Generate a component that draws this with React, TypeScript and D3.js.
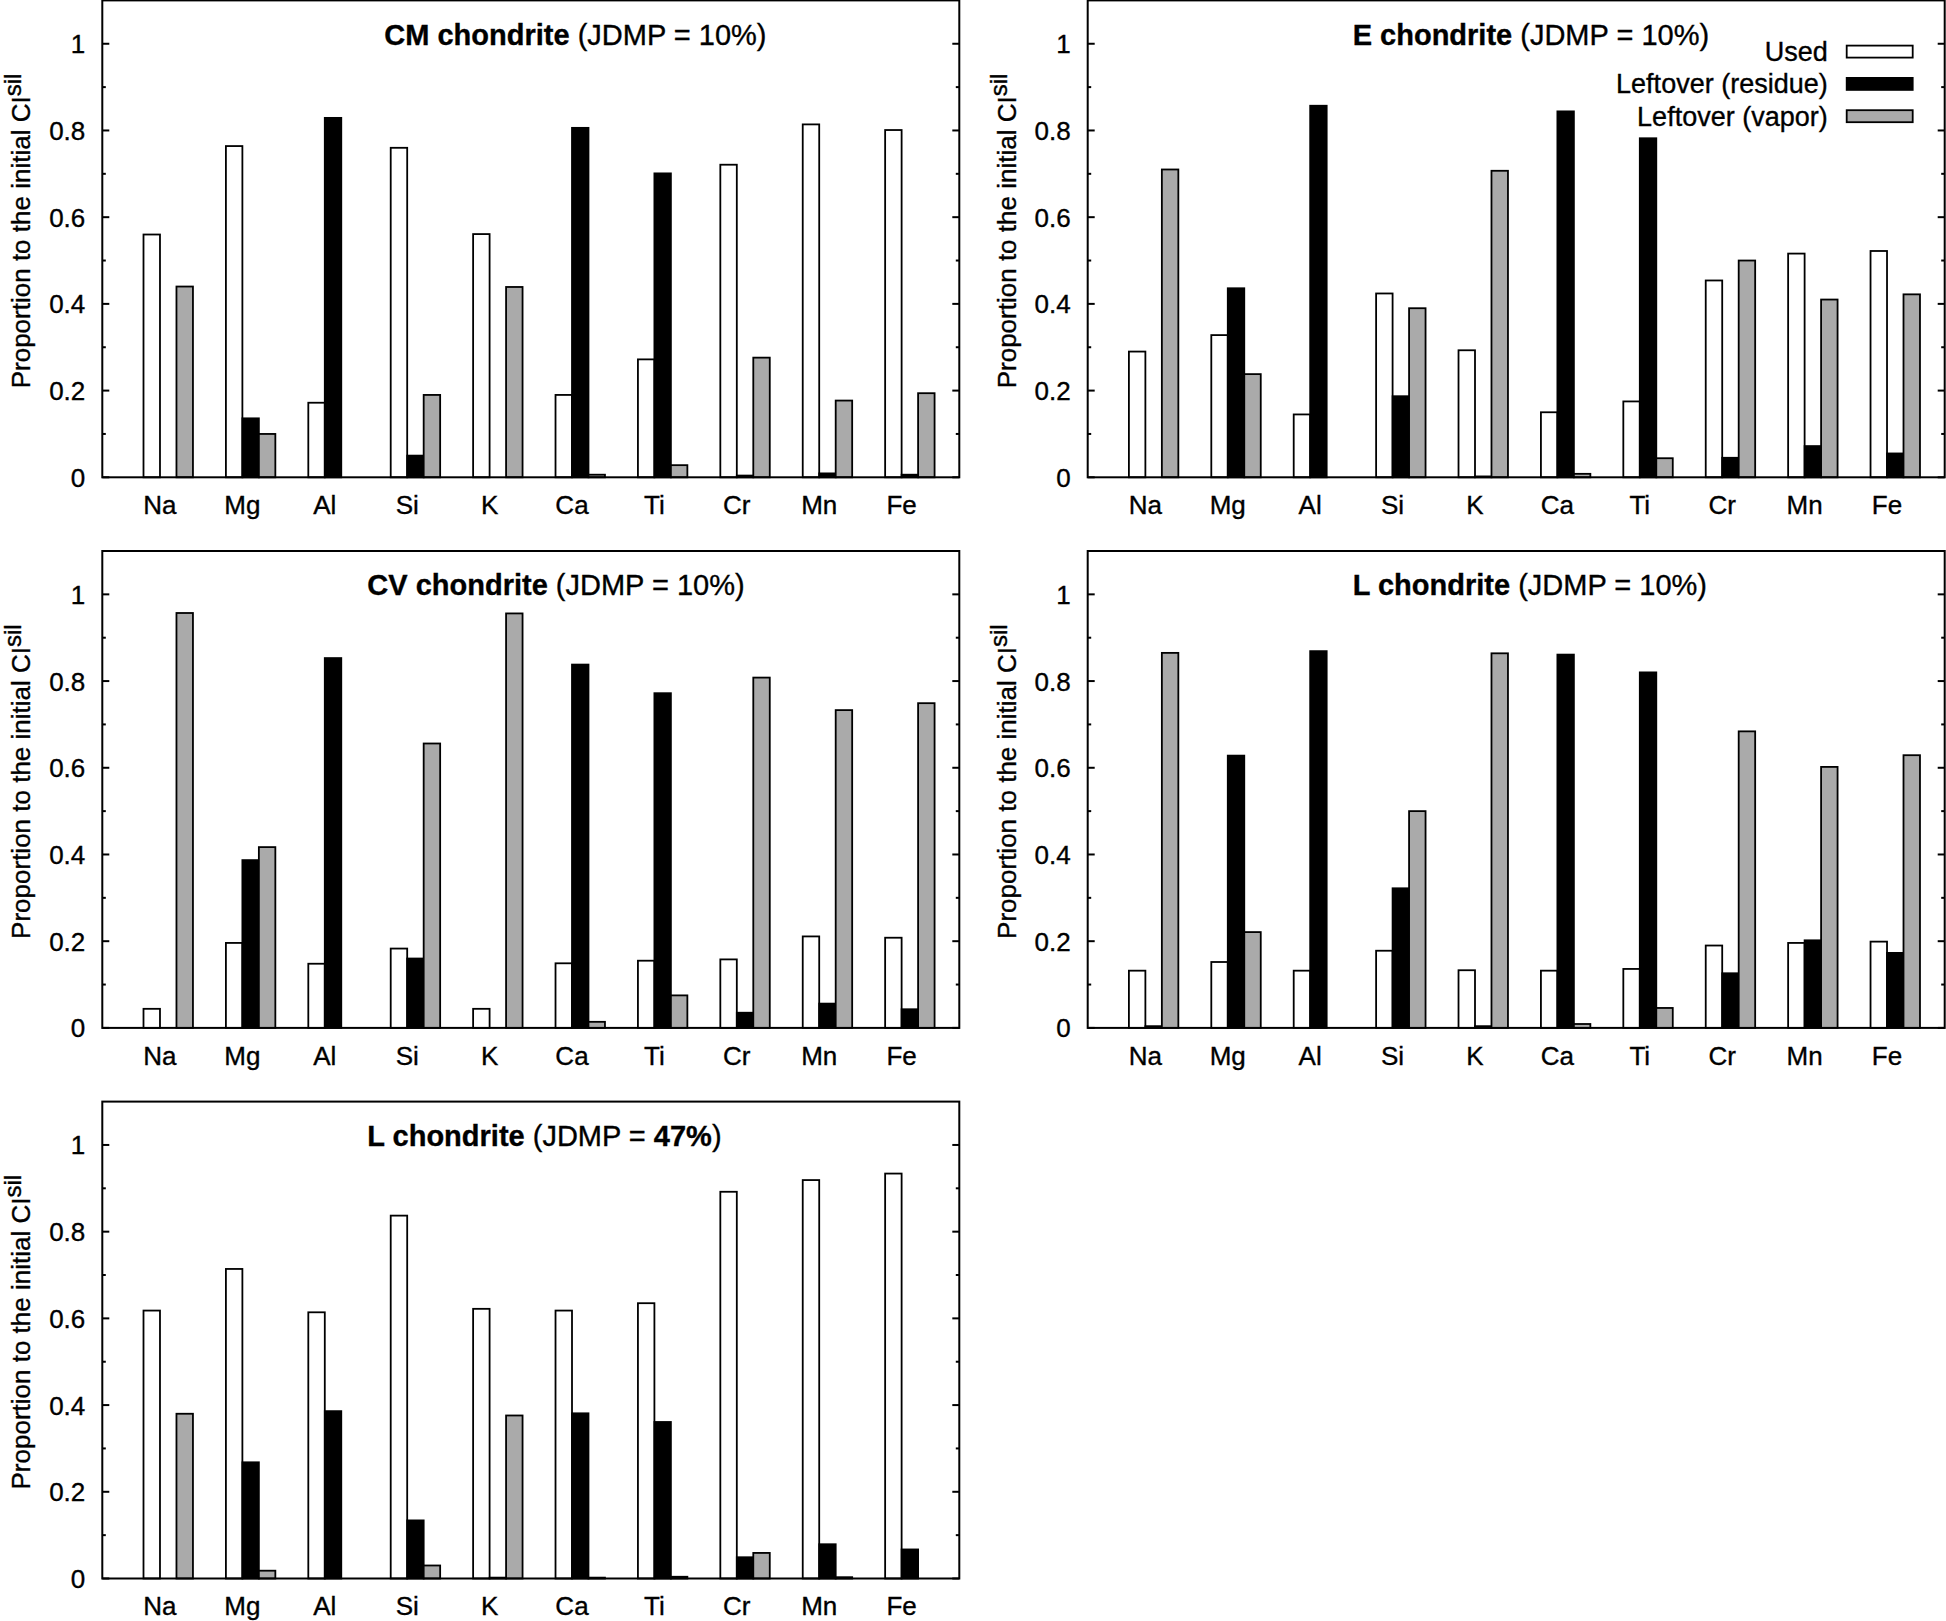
import * as d3 from "d3";

// element order on the x axis
const elements = ["Na", "Mg", "Al", "Si", "K", "Ca", "Ti", "Cr", "Mn", "Fe"];
const seriesNames = ["Used", "Leftover (residue)", "Leftover (vapor)"];
const seriesFill = ["#ffffff", "#000000", "#aaaaaa"];

// CM chondrite (JDMP = 10%)
const cmUsed = [0.56, 0.764, 0.172, 0.76, 0.561, 0.19, 0.272, 0.721, 0.814, 0.801];
const cmResidue = [0, 0.136, 0.829, 0.05, 0, 0.806, 0.701, 0.004, 0.009, 0.006];
const cmVapor = [0.44, 0.1, 0, 0.19, 0.439, 0.006, 0.028, 0.276, 0.177, 0.194];

// E chondrite (JDMP = 10%)
const eUsed = [0.29, 0.328, 0.145, 0.424, 0.293, 0.15, 0.175, 0.454, 0.516, 0.522];
const eResidue = [0, 0.436, 0.857, 0.187, 0.002, 0.844, 0.782, 0.045, 0.072, 0.055];
const eVapor = [0.71, 0.238, 0, 0.39, 0.707, 0.008, 0.044, 0.5, 0.41, 0.422];

// CV chondrite (JDMP = 10%)
const cvUsed = [0.044, 0.196, 0.148, 0.183, 0.044, 0.149, 0.155, 0.158, 0.211, 0.208];
const cvResidue = [0, 0.387, 0.853, 0.16, 0, 0.838, 0.772, 0.035, 0.056, 0.043];
const cvVapor = [0.957, 0.417, 0, 0.656, 0.956, 0.014, 0.075, 0.808, 0.733, 0.749];

// L chondrite (JDMP = 10%)
const lUsed = [0.132, 0.152, 0.132, 0.178, 0.133, 0.132, 0.136, 0.19, 0.196, 0.199];
const lResidue = [0.004, 0.628, 0.869, 0.322, 0.004, 0.861, 0.82, 0.126, 0.202, 0.173];
const lVapor = [0.865, 0.221, 0, 0.5, 0.864, 0.009, 0.046, 0.684, 0.602, 0.629];

// L chondrite (JDMP = 47%)
const l47Used = [0.618, 0.714, 0.614, 0.837, 0.622, 0.618, 0.635, 0.892, 0.919, 0.934];
const l47Residue = [0, 0.268, 0.386, 0.134, 0.002, 0.381, 0.361, 0.049, 0.079, 0.067];
const l47Vapor = [0.38, 0.018, 0, 0.03, 0.376, 0.002, 0.004, 0.059, 0.003, 0];

const yMajor = [0, 0.2, 0.4, 0.6, 0.8, 1];
const yMinor = [0.1, 0.3, 0.5, 0.7, 0.9];
const yTickLabels = ["0", "0.2", "0.4", "0.6", "0.8", "1"];

const panels = [
  { title: [["CM chondrite", true], [" (JDMP = 10%)", false]], series: [cmUsed, cmResidue, cmVapor], col: 0, row: 0, titleX: 282, legend: false },
  { title: [["E chondrite", true], [" (JDMP = 10%)", false]], series: [eUsed, eResidue, eVapor], col: 1, row: 0, titleX: 265, legend: true },
  { title: [["CV chondrite", true], [" (JDMP = 10%)", false]], series: [cvUsed, cvResidue, cvVapor], col: 0, row: 1, titleX: 265, legend: false },
  { title: [["L chondrite", true], [" (JDMP = 10%)", false]], series: [lUsed, lResidue, lVapor], col: 1, row: 1, titleX: 265, legend: false },
  { title: [["L chondrite", true], [" (JDMP = ", false], ["47%", true], [")", false]], series: [l47Used, l47Residue, l47Vapor], col: 0, row: 2, titleX: 265, legend: false },
];

const W = 1946;
const H = 1621;
const plotW = 857;
const plotH = 476.9;
const colLeft = [102.3, 1087.7];
const rowTop = [0.4, 551, 1101.6];
const font = "'Liberation Sans', Arial, Helvetica, sans-serif";
// a thin outline makes the glyphs a little heavier, like the scan
const txt = { fontFamily: font, stroke: "#000", strokeWidth: 0.35 };

function Panel({ p }) {
  const x = d3.scaleLinear().domain([-0.8, 9.6]).range([0, plotW]);
  const y = d3.scaleLinear().domain([0, 1.1]).range([plotH, 0]);
  const bw = x(0.2) - x(0);
  const left = colLeft[p.col];
  const top = rowTop[p.row];

  return (
    <g transform={`translate(${left},${top})`}>
      {p.series.map((vals, s) =>
        vals.map((v, i) =>
          v > 0 ? (
            <rect
              key={`${s}-${i}`}
              x={x(i) + (s - 1.5) * bw}
              y={y(v)}
              width={bw}
              height={y(0) - y(v)}
              fill={seriesFill[s]}
              stroke="#000"
              strokeWidth={1.8}
            />
          ) : null
        )
      )}
      <rect x={0} y={0} width={plotW} height={plotH} fill="none" stroke="#000" strokeWidth={2} />
      {yMajor.map((t) => (
        <g key={`M${t}`}>
          <line x1={0} x2={7} y1={y(t)} y2={y(t)} stroke="#000" strokeWidth={2} />
          <line x1={plotW - 7} x2={plotW} y1={y(t)} y2={y(t)} stroke="#000" strokeWidth={2} />
        </g>
      ))}
      {yMinor.map((t) => (
        <g key={`m${t}`}>
          <line x1={0} x2={3.5} y1={y(t)} y2={y(t)} stroke="#000" strokeWidth={2} />
          <line x1={plotW - 3.5} x2={plotW} y1={y(t)} y2={y(t)} stroke="#000" strokeWidth={2} />
        </g>
      ))}
      {yMajor.map((t, i) => (
        <text key={`l${t}`} x={-17} y={y(t) + 9.5} textAnchor="end" fontSize={26} {...txt}>
          {yTickLabels[i]}
        </text>
      ))}
      {elements.map((e, i) => (
        <text key={e} x={x(i - 0.1)} y={plotH + 37} textAnchor="middle" fontSize={26} {...txt}>
          {e}
        </text>
      ))}
      <text x={p.titleX} y={y(1) + 1} fontSize={29} {...txt}>
        {p.title.map(([t, b], k) => (
          <tspan key={k} fontWeight={b ? "bold" : "normal"}>
            {t}
          </tspan>
        ))}
      </text>
      <text transform={`translate(-72,${plotH - 89}) rotate(-90)`} fontSize={26} {...txt}>
        Proportion to the initial CI
        <tspan fontSize={24} dy={-9}>sil</tspan>
      </text>
      {p.legend &&
        seriesNames.map((n, s) => {
          const cy = 51.6 + s * 32.3 - top;
          return (
            <g key={n}>
              <text x={740} y={cy + 9.5} textAnchor="end" fontSize={27} {...txt}>
                {n}
              </text>
              <rect x={759} y={cy - 6} width={66} height={12} fill={seriesFill[s]} stroke="#000" strokeWidth={1.8} />
            </g>
          );
        })}
    </g>
  );
}

export default function App() {
  return (
    <svg
      width={W}
      height={H}
      style={{ position: "absolute", left: 0, top: 0, background: "#fff" }}
    >
      <rect width={W} height={H} fill="#fff" />
      {panels.map((p, k) => (
        <Panel key={k} p={p} />
      ))}
    </svg>
  );
}
